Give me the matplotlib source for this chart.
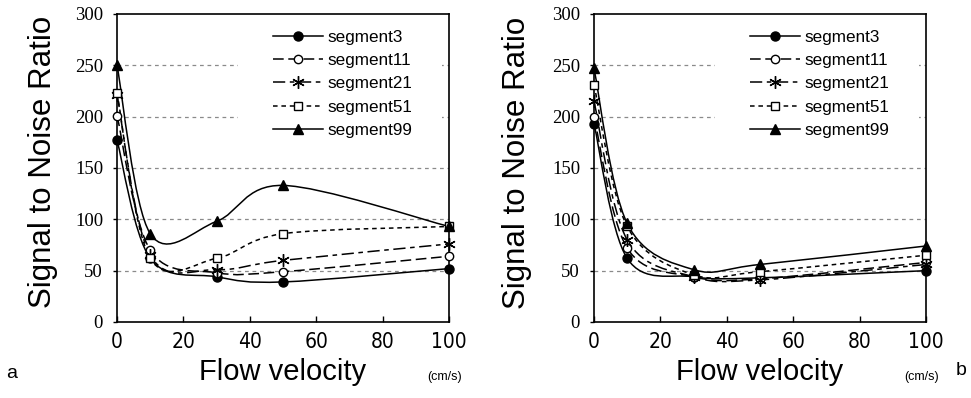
import matplotlib
matplotlib.use("Agg")

import matplotlib.pyplot as plt
import matplotlib.font_manager as fm
from matplotlib.lines import Line2D
from matplotlib.patches import PathPatch, Rectangle
from matplotlib.path import Path
import numpy as np

# ---------------------------------------------------------------------------
# Data
# ---------------------------------------------------------------------------
velocity = [0, 10, 30, 50, 100]
segments = ["segment3", "segment11", "segment21", "segment51", "segment99"]

snr_a = {
    "segment3": [177, 62, 44, 39, 52],
    "segment11": [201, 70, 48, 49, 64],
    "segment21": [221, 65, 51, 60, 76],
    "segment51": [223, 62, 62, 86, 93],
    "segment99": [250, 86, 98, 133, 93],
}
snr_b = {
    "segment3": [193, 62, 44, 43, 50],
    "segment11": [200, 72, 44, 42, 58],
    "segment21": [215, 80, 44, 41, 56],
    "segment51": [231, 93, 46, 49, 65],
    "segment99": [247, 96, 51, 56, 74],
}

# ---------------------------------------------------------------------------
# Styles
# ---------------------------------------------------------------------------
STYLE = {
    "segment3": dict(marker="o", mfc="black", ls="-", ms=6.5),
    "segment11": dict(marker="o", mfc="white", ls=(0, (7, 3)), ms=6),
    "segment21": dict(marker=(6, 2, 0), mfc="black", ls=(0, (8, 3, 3, 3)), ms=9),
    "segment51": dict(marker="s", mfc="white", ls=(0, (3, 2.5)), ms=5.5),
    "segment99": dict(marker="^", mfc="black", ls="-", ms=7.5),
}
LW = 1.1
GRID_COLOR = "#8a8a8a"

installed = {f.name for f in fm.fontManager.ttflist}
SANS = "Liberation Sans" if "Liberation Sans" in installed else "DejaVu Sans"
SERIF = "Liberation Serif" if "Liberation Serif" in installed else "DejaVu Serif"

# condensed sans for the x tick labels, if one is around
_cond = [f for f in fm.fontManager.ttflist
         if f.stretch in ("condensed", "semi-condensed", "extra-condensed")
         and "Serif" not in f.name and "Mono" not in f.name
         and f.style == "normal" and f.weight in (400, "normal", "regular")]
if "Liberation Sans Narrow" in installed:
    XTICK_FONT = fm.FontProperties(family="Liberation Sans Narrow", size=16)
elif _cond:
    XTICK_FONT = fm.FontProperties(fname=_cond[0].fname, size=15)
else:
    XTICK_FONT = fm.FontProperties(family=SANS, size=14)


def smooth_path(x, y):
    """Excel-style smoothed line: cubic Bezier segments through the points."""
    pts = np.column_stack([x, y]).astype(float)
    n = len(pts)
    verts = [pts[0]]
    codes = [Path.MOVETO]
    for i in range(n - 1):
        p_prev = pts[i - 1] if i > 0 else pts[i]
        p_next2 = pts[i + 2] if i + 2 < n else pts[i + 1]
        c1 = pts[i] + (pts[i + 1] - p_prev) / 6.0
        c2 = pts[i + 1] - (p_next2 - pts[i]) / 6.0
        verts += [c1, c2, pts[i + 1]]
        codes += [Path.CURVE4] * 3
    return Path(verts, codes)


def draw_panel(ax, data):
    for name in segments:
        st = STYLE[name]
        ax.add_patch(PathPatch(smooth_path(velocity, data[name]), fill=False,
                               edgecolor="black", lw=LW, linestyle=st["ls"],
                               capstyle="butt", zorder=3))
        ax.plot(velocity, data[name], linestyle="none", marker=st["marker"],
                ms=st["ms"], mfc=st["mfc"], mec="black", mew=1.0,
                color="black", clip_on=False, zorder=4)

    ax.set_xlim(0, 100)
    ax.set_ylim(0, 300)
    ax.set_xticks(range(0, 101, 20))
    ax.set_yticks(range(0, 301, 50))
    ax.set_xticklabels([str(v) for v in range(0, 101, 20)], fontproperties=XTICK_FONT)
    ax.set_yticklabels([str(v) for v in range(0, 301, 50)],
                       fontproperties=fm.FontProperties(family=SERIF, size=13.5))
    for y in range(50, 300, 50):
        ax.axhline(y, color=GRID_COLOR, lw=0.9, ls=(0, (3, 3)), zorder=1)

    ax.tick_params(axis="x", direction="in", length=4, width=1, pad=7)
    ax.tick_params(axis="y", direction="out", length=3, width=1, pad=7)
    for sp in ax.spines.values():
        sp.set_linewidth(1.2)

    # white legend backdrop hides the grid behind the key
    ax.add_patch(Rectangle((0.364, 0.53), 0.614, 0.46, transform=ax.transAxes,
                           facecolor="white", edgecolor="none", zorder=2))

    handles = [Line2D([], [], color="black", lw=LW, ls=STYLE[n]["ls"],
                      marker=STYLE[n]["marker"], ms=STYLE[n]["ms"],
                      mfc=STYLE[n]["mfc"], mec="black", mew=1.0)
               for n in segments]
    leg = ax.legend(handles, segments, loc="upper left",
                    bbox_to_anchor=(0.47, 0.948), frameon=False,
                    borderpad=0, borderaxespad=0, numpoints=1,
                    handlelength=2.9, handletextpad=0.3, labelspacing=0.48,
                    prop={"family": SANS, "size": 12.3})
    leg.set_zorder(5)

    ax.set_ylabel("Signal to Noise Ratio", fontsize=22.5, family=SANS)


fig = plt.figure(figsize=(9.71, 3.98), dpi=100)
ax_a = fig.add_axes([0.1205, 0.191, 0.342, 0.774])
ax_b = fig.add_axes([0.6117, 0.191, 0.342, 0.774])

draw_panel(ax_a, snr_a)
draw_panel(ax_b, snr_b)
ax_a.yaxis.set_label_coords(-0.178, 0.521)
ax_b.yaxis.set_label_coords(-0.187, 0.518)

for cx, ux in [(283 / 971, 445 / 971), (760 / 971, 922 / 971)]:
    fig.text(cx, 0.045, "Flow velocity", ha="center", va="baseline",
             fontsize=21, family=SANS)
    fig.text(ux, 0.045, "(cm/s)", ha="center", va="baseline",
             fontsize=9, family=SANS)

fig.text(12 / 971, 0.05, "a", ha="center", va="baseline", fontsize=14, family=SANS)
fig.text(961 / 971, 0.058, "b", ha="center", va="baseline", fontsize=14, family=SANS)

fig.savefig("out.png", dpi=100)
